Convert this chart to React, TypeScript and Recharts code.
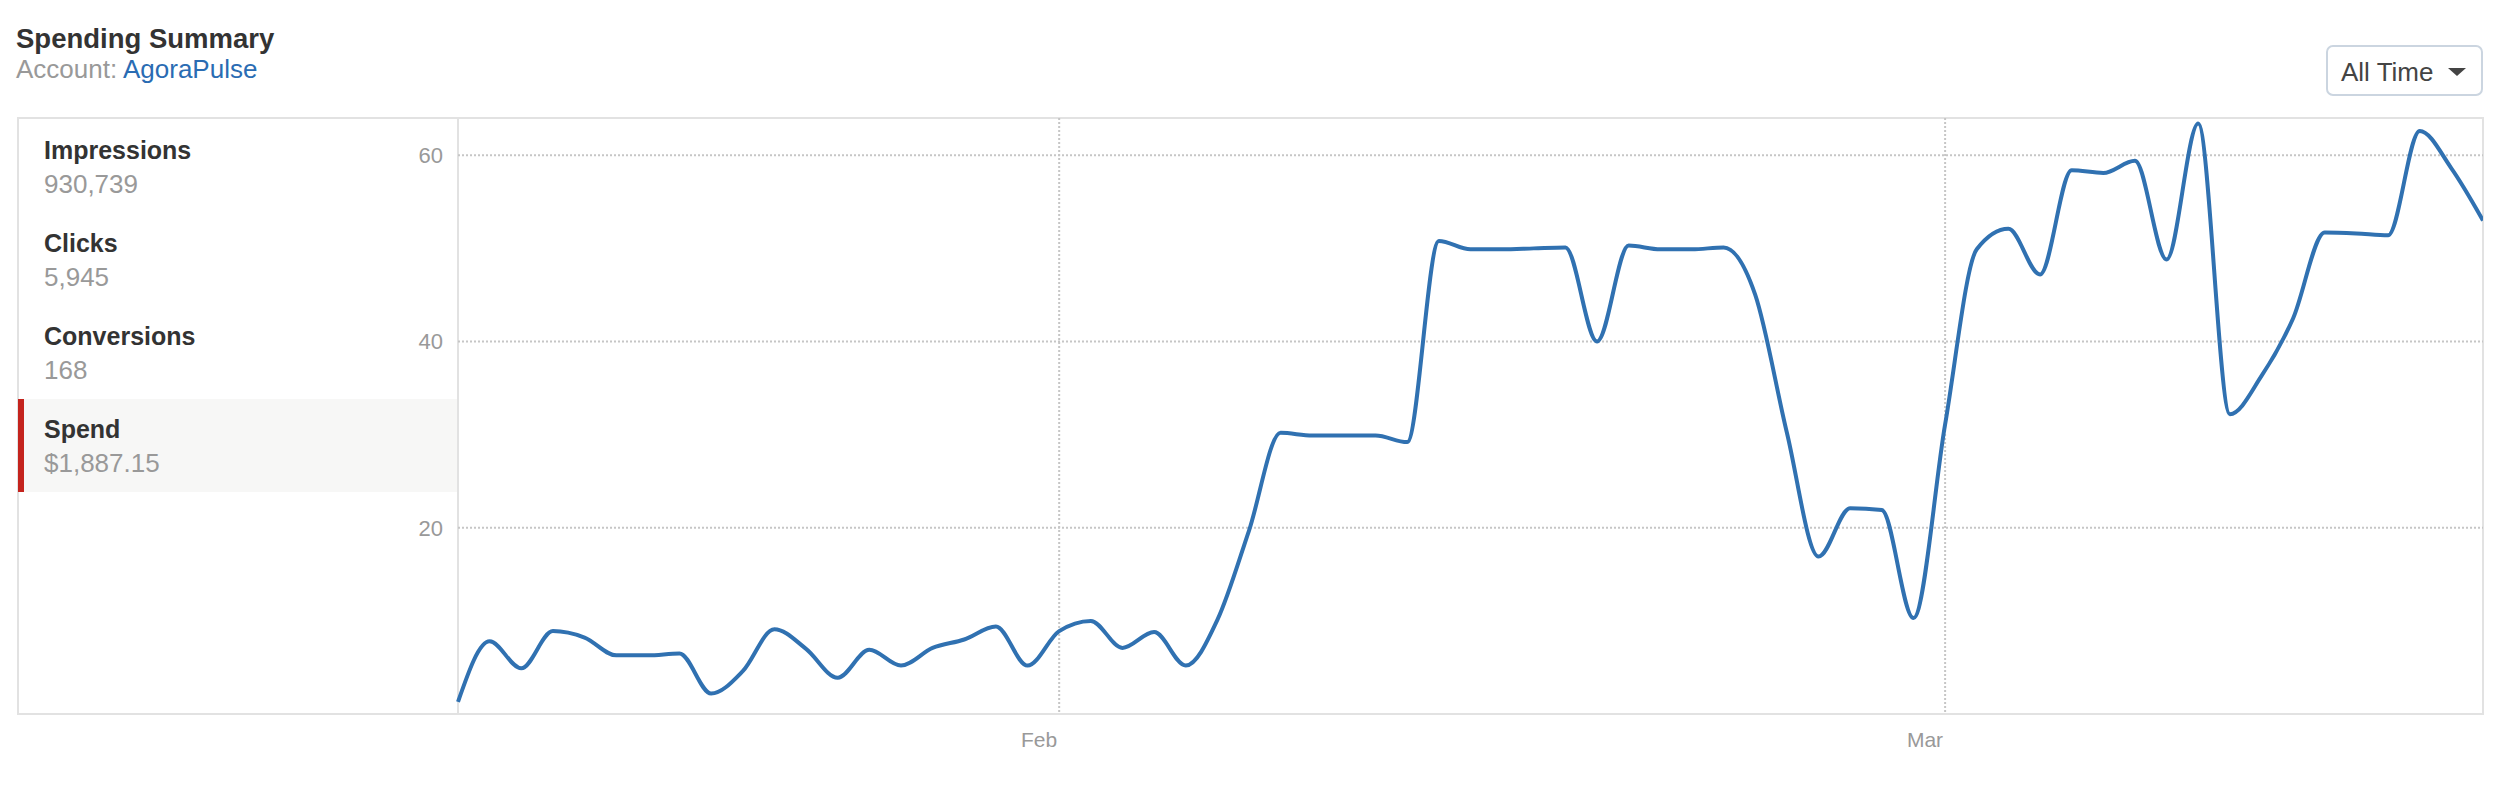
import { CartesianGrid, Line, LineChart, XAxis, YAxis } from "recharts"

// daily spend, Jan 13 -> Mar 18
const days = [
  "Jan 13", "Jan 14", "Jan 15", "Jan 16", "Jan 17", "Jan 18", "Jan 19", "Jan 20", "Jan 21", "Jan 22",
  "Jan 23", "Jan 24", "Jan 25", "Jan 26", "Jan 27", "Jan 28", "Jan 29", "Jan 30", "Jan 31",
  "Feb 1", "Feb 2", "Feb 3", "Feb 4", "Feb 5", "Feb 6", "Feb 7", "Feb 8", "Feb 9", "Feb 10",
  "Feb 11", "Feb 12", "Feb 13", "Feb 14", "Feb 15", "Feb 16", "Feb 17", "Feb 18", "Feb 19", "Feb 20",
  "Feb 21", "Feb 22", "Feb 23", "Feb 24", "Feb 25", "Feb 26", "Feb 27", "Feb 28",
  "Mar 1", "Mar 2", "Mar 3", "Mar 4", "Mar 5", "Mar 6", "Mar 7", "Mar 8", "Mar 9", "Mar 10",
  "Mar 11", "Mar 12", "Mar 13", "Mar 14", "Mar 15", "Mar 16", "Mar 17", "Mar 18",
]

const spend = [
  1.3, 7.8, 4.9, 8.9, 8.2, 6.3, 6.3, 6.5, 2.2, 4.6,
  9.1, 7.0, 3.9, 6.9, 5.2, 7.1, 8.0, 9.4, 5.2,
  8.9, 10.0, 7.1, 8.8, 5.2, 10.1, 19.7, 30.2, 29.9, 29.9,
  29.9, 29.2, 50.8, 49.9, 49.9, 50.0, 50.1, 40.0, 50.3, 49.9,
  49.9, 50.1, 45.0, 30.2, 16.9, 22.1, 21.9, 10.3,
  31.1, 49.9, 52.1, 47.2, 58.4, 58.1, 59.4, 48.8, 63.4, 32.2,
  36.3, 42.5, 51.7, 51.6, 51.4, 62.6, 58.6, 53.0,
]

const monthTicks = ["Feb 1", "Mar 1"]
const yTicks = [20, 40, 60]

const metricNames = ["Impressions", "Clicks", "Conversions", "Spend"]
const metricValues = ["930,739", "5,945", "168", "$1,887.15"]
const activeMetric = 3

const font = '"Liberation Sans", "Helvetica Neue", Helvetica, Arial, sans-serif'

function MonthTick(props: any) {
  const { x, y, payload } = props
  return (
    <text x={x - 2} y={y} dy="0.71em" textAnchor="end" fill="#999" fontSize={21} fontFamily={font}>
      {String(payload.value).split(" ")[0]}
    </text>
  )
}

export default function App() {
  const data = days.map((day, i) => ({ day, spend: spend[i] }))
  const rowH = 93

  return (
    <div style={{ position: "absolute", left: 0, top: 0, width: 2500, height: 786, background: "#fff", fontFamily: font, overflow: "hidden" }}>
      {/* header */}
      <div style={{ position: "absolute", left: 16, top: 25, fontSize: 27.5, lineHeight: "27px", fontWeight: 700, color: "#333", whiteSpace: "nowrap" }}>
        Spending Summary
      </div>
      <div style={{ position: "absolute", left: 16, top: 56, fontSize: 26, lineHeight: "26px", color: "#999", whiteSpace: "nowrap" }}>
        Account: <span style={{ color: "#2a6cb3" }}>AgoraPulse</span>
      </div>

      {/* range dropdown */}
      <div style={{ position: "absolute", left: 2326, top: 45, width: 157, height: 51, boxSizing: "border-box", border: "2px solid #cbd5e0", borderRadius: 7, background: "#fff" }}>
        <div style={{ position: "absolute", left: 13, top: 12, fontSize: 26, lineHeight: "26px", color: "#444", whiteSpace: "nowrap" }}>All Time</div>
        <div style={{ position: "absolute", left: 120, top: 21, width: 0, height: 0, borderLeft: "9px solid transparent", borderRight: "9px solid transparent", borderTop: "8px solid #444" }} />
      </div>

      {/* panel box */}
      <div style={{ position: "absolute", left: 17, top: 117, width: 2467, height: 598, boxSizing: "border-box", border: "2px solid #e2e2e2" }} />
      <div style={{ position: "absolute", left: 457, top: 117, width: 2, height: 598, background: "#e2e2e2" }} />

      {/* metric list */}
      {metricNames.map((name, i) => (
        <div key={name} style={{ position: "absolute", left: 19, top: 120 + i * rowH, width: 438, height: rowH, background: i === activeMetric ? "#f7f7f6" : "transparent" }}>
          {i === activeMetric && <div style={{ position: "absolute", left: -1, top: 0, width: 6, height: rowH, background: "#c4231d" }} />}
          <div style={{ position: "absolute", left: 25, top: 18, fontSize: 25, lineHeight: "25px", fontWeight: 700, color: "#333", whiteSpace: "nowrap" }}>{name}</div>
          <div style={{ position: "absolute", left: 25, top: 51, fontSize: 26, lineHeight: "26px", color: "#999", whiteSpace: "nowrap" }}>{metricValues[i]}</div>
        </div>
      ))}

      {/* chart */}
      <div style={{ position: "absolute", left: 358, top: 100 }}>
        <LineChart width={2125} height={664} data={data} margin={{ top: 18, right: 0, bottom: 0, left: 0 }}>
          <CartesianGrid
            stroke="#c6c6c6"
            strokeDasharray="2 2"
            strokeWidth={2}
            horizontalValues={yTicks}
            verticalValues={monthTicks}
          />
          <XAxis
            dataKey="day"
            ticks={monthTicks}
            interval={0}
            axisLine={false}
            tickLine={false}
            tickMargin={12}
            height={50}
            tick={<MonthTick />}
          />
          <YAxis
            domain={[0, 64]}
            ticks={yTicks}
            axisLine={false}
            tickLine={false}
            tickMargin={9}
            width={100}
            tick={{ fill: "#999", fontSize: 22, fontFamily: font }}
          />
          <Line
            type="monotone"
            dataKey="spend"
            stroke="#3071b1"
            strokeWidth={4}
            dot={false}
            isAnimationActive={false}
          />
        </LineChart>
      </div>
    </div>
  )
}
